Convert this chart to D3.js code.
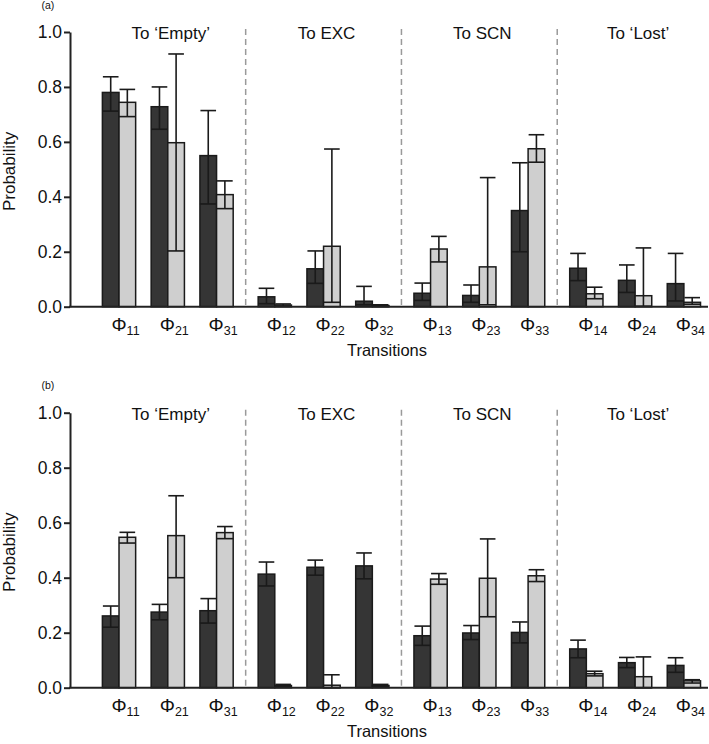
<!DOCTYPE html>
<html><head><meta charset="utf-8">
<script src="https://cdn.jsdelivr.net/npm/d3@7"></script>
<style>body{margin:0;background:#fff}svg{display:block;font-family:"Liberation Sans",Arial,Helvetica,sans-serif}</style>
</head><body><div id="chart"></div>
<script>
// ---- data ----
const sections = ["To \u2018Empty\u2019", "To EXC", "To SCN", "To \u2018Lost\u2019"];
const transitions = ["11","21","31","12","22","32","13","23","33","14","24","34"];
const yTicks = [0, 0.2, 0.4, 0.6, 0.8, 1.0];

// panel (a)
const aDarkMean  = [0.780,0.728,0.550, 0.036,0.138,0.020, 0.049,0.041,0.350, 0.140,0.096,0.084];
const aDarkLo    = [0.712,0.646,0.374, 0.011,0.085,0.007, 0.023,0.016,0.200, 0.095,0.052,0.021];
const aDarkHi    = [0.837,0.800,0.714, 0.067,0.203,0.074, 0.086,0.079,0.524, 0.194,0.152,0.194];
const aLightMean = [0.744,0.597,0.408, 0.006,0.220,0.004, 0.210,0.145,0.575, 0.047,0.040,0.016];
const aLightLo   = [0.692,0.203,0.357, 0.002,0.016,0.001, 0.163,0.007,0.526, 0.029,0.002,0.009];
const aLightHi   = [0.791,0.920,0.458, 0.010,0.574,0.007, 0.256,0.470,0.626, 0.071,0.214,0.033];

// panel (b)
const bDarkMean  = [0.261,0.275,0.280, 0.413,0.438,0.443, 0.189,0.199,0.201, 0.141,0.091,0.081];
const bDarkLo    = [0.220,0.247,0.235, 0.370,0.409,0.396, 0.154,0.175,0.163, 0.109,0.073,0.056];
const bDarkHi    = [0.297,0.303,0.324, 0.457,0.464,0.490, 0.224,0.226,0.239, 0.173,0.110,0.109];
const bLightMean = [0.547,0.553,0.564, 0.008,0.009,0.008, 0.395,0.398,0.407, 0.051,0.040,0.025];
const bLightLo   = [0.526,0.400,0.542, 0.004,0.000,0.004, 0.376,0.258,0.386, 0.043,0.000,0.017];
const bLightHi   = [0.565,0.698,0.586, 0.012,0.047,0.012, 0.415,0.541,0.429, 0.060,0.112,0.029];

// ---- layout ----
const W = 709, H = 744;
const axisX = 70;
const colors = {dark: "#353535", light: "#cfcfcf"};
const ink = "#1a1a1a";

const svg = d3.select("#chart").append("svg").attr("width", W).attr("height", H);

const xSection = d3.scaleBand().domain(d3.range(sections.length)).range([89.9, 713]).padding(0);
const xInner = d3.scaleBand().domain([0,1,2]).range([0, xSection.bandwidth()])
  .paddingInner(0.318).paddingOuter(0.256);
const xBar = d3.scaleBand().domain(["dark","light"]).range([0, xInner.bandwidth()]);
const groupX = t => xSection(+t[1]-1) + xInner(+t[0]-1);

const panels = [
  {tag:"(a)", tagY: 9, y1: 32, y0: 306.7,
   series:[{key:"dark", mean:aDarkMean, lo:aDarkLo, hi:aDarkHi},
           {key:"light", mean:aLightMean, lo:aLightLo, hi:aLightHi}]},
  {tag:"(b)", tagY: 389, y1: 412.7, y0: 687.7,
   series:[{key:"dark", mean:bDarkMean, lo:bDarkLo, hi:bDarkHi},
           {key:"light", mean:bLightMean, lo:bLightLo, hi:bLightHi}]}
];

panels.forEach(p => {
  const g = svg.append("g");
  const y = d3.scaleLinear().domain([0,1]).range([p.y0, p.y1]);

  // panel tag
  g.append("text").attr("x", 41.5).attr("y", p.tagY).attr("font-size", 10.5).attr("fill", "#111").text(p.tag);

  // dashed separators
  g.selectAll("line.sep").data(d3.range(1, sections.length)).join("line")
    .attr("class","sep")
    .attr("x1", s => xSection(s)).attr("x2", s => xSection(s))
    .attr("y1", p.y1 - 3).attr("y2", p.y0)
    .attr("stroke", "#9a9a9a").attr("stroke-width", 1.5).attr("stroke-dasharray", "6,4");

  // section headers
  g.selectAll("text.sec").data(sections).join("text")
    .attr("class","sec")
    .attr("x", (d,i) => xSection(i) + xSection.bandwidth()/2 + 3)
    .attr("y", p.y1 + 7)
    .attr("text-anchor", "middle").attr("font-size", 17).attr("fill", "#111")
    .text(d => d);

  // bars
  p.series.forEach(s => {
    const bw = xBar.bandwidth();
    const bx = i => groupX(transitions[i]) + xBar(s.key);
    g.selectAll("rect.b" + s.key).data(s.mean).join("rect")
      .attr("x", (d,i) => bx(i)).attr("y", d => y(d))
      .attr("width", bw).attr("height", d => p.y0 - y(d))
      .attr("fill", colors[s.key]).attr("stroke", ink).attr("stroke-width", 1.5);
  });
  // error bars
  p.series.forEach(s => {
    const bw = xBar.bandwidth();
    const bx = i => groupX(transitions[i]) + xBar(s.key);
    const eg = g.append("g").attr("stroke", ink).attr("stroke-width", 1.6);
    s.mean.forEach((m, i) => {
      const cx = bx(i) + bw/2;
      eg.append("line").attr("x1", cx).attr("x2", cx).attr("y1", y(s.lo[i])).attr("y2", y(s.hi[i]));
      eg.append("line").attr("x1", bx(i) + 0.5).attr("x2", bx(i) + bw - 0.5)
        .attr("y1", y(s.hi[i])).attr("y2", y(s.hi[i]));
      eg.append("line").attr("x1", bx(i)).attr("x2", bx(i) + bw)
        .attr("y1", y(s.lo[i])).attr("y2", y(s.lo[i]));
    });
  });

  // y axis
  const ax = g.append("g").attr("transform", `translate(${axisX},0)`)
    .call(d3.axisLeft(y).tickValues(yTicks).tickFormat(d3.format(".1f"))
      .tickSize(6).tickSizeOuter(0).tickPadding(2));
  ax.select(".domain").attr("stroke", "#222").attr("stroke-width", 2);
  ax.selectAll(".tick line").attr("stroke", "#222").attr("stroke-width", 2);
  ax.selectAll(".tick text").attr("font-size", 17.5).attr("fill", "#111")
    .attr("font-family", "'Liberation Sans', Arial, sans-serif");

  // x axis baseline
  g.append("line").attr("x1", axisX - 1).attr("x2", 708).attr("y1", p.y0).attr("y2", p.y0)
    .attr("stroke", "#222").attr("stroke-width", 2);

  // transition labels
  const tl = g.selectAll("text.tr").data(transitions).join("text")
    .attr("class","tr")
    .attr("x", t => groupX(t) + xInner.bandwidth()/2 + 6.5)
    .attr("y", p.y0 + 24)
    .attr("text-anchor", "middle").attr("fill", "#111");
  tl.append("tspan").attr("font-size", 19).text("\u03A6");
  tl.append("tspan").attr("font-size", 12.5).attr("dy", 4).text(t => t);

  // axis titles
  g.append("text").attr("x", 387).attr("y", p.y0 + 49).attr("text-anchor", "middle")
    .attr("font-size", 16.5).attr("fill", "#111").text("Transitions");
  g.append("text").attr("transform", `translate(15,${(p.y0 + p.y1)/2 + 2}) rotate(-90)`)
    .attr("text-anchor", "middle").attr("font-size", 17).attr("fill", "#111").text("Probability");
});
</script>
</body></html>
